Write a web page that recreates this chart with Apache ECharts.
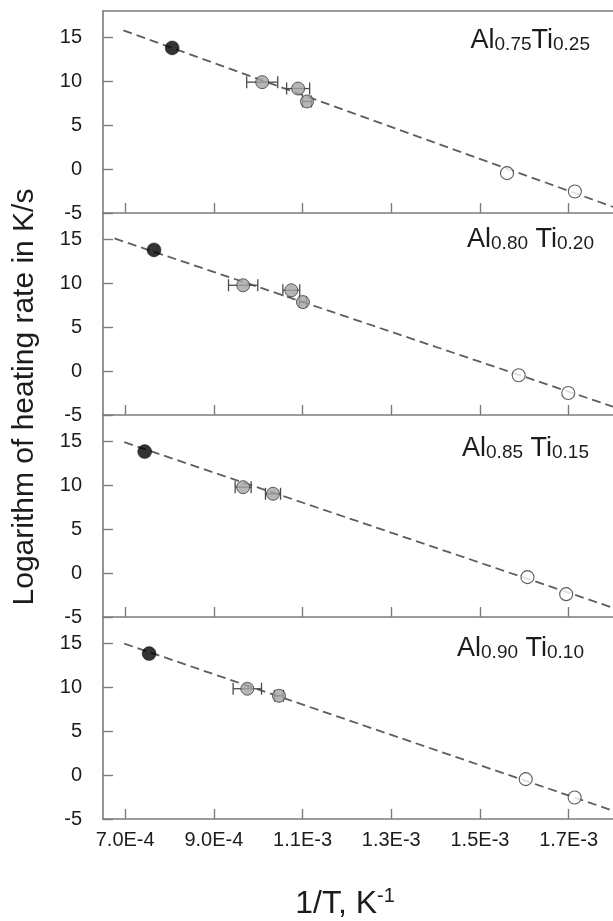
<!DOCTYPE html>
<html>
<head>
<meta charset="utf-8">
<script src="https://cdn.jsdelivr.net/npm/echarts@6/dist/echarts.min.js"></script>
<style>html,body{margin:0;padding:0;background:#fff}#c{width:613px;height:921px}</style>
</head>
<body>
<div id="c"></div>
<script>
// ---- data ----
const xTickValues = [7.0e-4, 9.0e-4, 1.1e-3, 1.3e-3, 1.5e-3, 1.7e-3];
const xTickLabels = ['7.0E-4', '9.0E-4', '1.1E-3', '1.3E-3', '1.5E-3', '1.7E-3'];
const yTickValues = [-5, 0, 5, 10, 15];
const alloyAl = ['0.75', '0.80', '0.85', '0.90'];
const alloyTi = ['0.25', '0.20', '0.15', '0.10'];
const alloyGap = ['', ' ', ' ', ' '];
const yTitle = 'Logarithm of heating rate in K/s';
const xTitle = '1/T, K';
const xTitleSup = '-1';

const solidPoints = [
  [[8.06e-4, 13.8]],
  [[7.65e-4, 13.8]],
  [[7.44e-4, 13.83]],
  [[7.54e-4, 13.83]]
];
const grayPoints = [
  [[1.009e-3, 9.9], [1.090e-3, 9.17], [1.110e-3, 7.7]],
  [[0.966e-3, 9.77], [1.0746e-3, 9.2], [1.1008e-3, 7.86]],
  [[0.966e-3, 9.78], [1.0333e-3, 9.03]],
  [[0.9754e-3, 9.83], [1.0468e-3, 9.03]]
];
const grayXErr = [
  [3.5e-5, 2.6e-5, 1.0e-5],
  [3.3e-5, 1.9e-5, 0.8e-5],
  [1.8e-5, 1.7e-5],
  [3.2e-5, 1.0e-5]
];
const openPoints = [
  [[1.561e-3, -0.46], [1.714e-3, -2.55]],
  [[1.5873e-3, -0.48], [1.6992e-3, -2.5]],
  [[1.6071e-3, -0.46], [1.6944e-3, -2.4]],
  [[1.6032e-3, -0.46], [1.7135e-3, -2.55]]
];
const fitLines = [
  [[6.96e-4, 15.8], [1.8e-3, -4.3]],
  [[6.76e-4, 15.1], [1.8e-3, -4.05]],
  [[6.98e-4, 14.9], [1.8e-3, -3.95]],
  [[6.98e-4, 14.97], [1.8e-3, -4.05]]
];

// ---- layout / style ----
const FONT = "'Liberation Sans', Arial, Helvetica, sans-serif";
const AX = '#7c7c7c';
const TXT = '#1c1c1c';
const GRID_LEFT = 103, GRID_TOP = 11, PANEL_H = 202;
const labelRight = [590, 594, 589, 584];
const labelTop = [24, 223, 432, 632];

const chart = echarts.init(document.getElementById('c'), null, {renderer: 'canvas'});

const grids = [], xAxes = [], yAxes = [], series = [], graphics = [];
for (let i = 0; i < 4; i++) {
  grids.push({left: GRID_LEFT, right: 0, top: GRID_TOP + PANEL_H * i, height: PANEL_H,
    containLabel: false, outerBoundsMode: 'none', show: false});
  xAxes.push({
    type: 'value', gridIndex: i, min: 6.5e-4, max: 1.8e-3,
    axisLine: {show: true, onZero: false, lineStyle: {color: AX, width: 1.6}},
    axisTick: {show: true, inside: true, length: 10, customValues: xTickValues, lineStyle: {color: AX, width: 1.4}},
    axisLabel: {show: i === 3, customValues: xTickValues, margin: 11, fontSize: 20, fontFamily: FONT, color: TXT,
      formatter: function (v) {
        let best = 0;
        for (let k = 1; k < xTickValues.length; k++) if (Math.abs(xTickValues[k] - v) < Math.abs(xTickValues[best] - v)) best = k;
        return xTickLabels[best];
      }},
    splitLine: {show: false}
  });
  yAxes.push({
    type: 'value', gridIndex: i, min: -5, max: 18,
    axisLine: {show: true, onZero: false, lineStyle: {color: AX, width: 1.6}},
    axisTick: {show: true, inside: true, length: 10, customValues: yTickValues, lineStyle: {color: AX, width: 1.4}},
    axisLabel: {show: true, customValues: yTickValues, margin: 21, fontSize: 20, fontFamily: FONT, color: TXT},
    splitLine: {show: false}
  });

  series.push({
    type: 'line', xAxisIndex: i, yAxisIndex: i, data: fitLines[i], showSymbol: false, symbol: 'none',
    lineStyle: {color: '#5e5e5e', width: 1.8, type: [9, 5]}, z: 1, silent: true
  });
  series.push({
    type: 'custom', xAxisIndex: i, yAxisIndex: i, z: 2, silent: true,
    data: grayPoints[i].map((p, k) => [p[0], p[1], grayXErr[i][k]]),
    renderItem: function (params, api) {
      const x = api.value(0), y = api.value(1), e = api.value(2);
      const lo = api.coord([x - e, y]), hi = api.coord([x + e, y]);
      const cap = 6;
      const st = {stroke: '#4a4a4a', lineWidth: 1.3};
      return {type: 'group', children: [
        {type: 'line', shape: {x1: lo[0], y1: lo[1], x2: hi[0], y2: hi[1]}, style: st},
        {type: 'line', shape: {x1: lo[0], y1: lo[1] - cap, x2: lo[0], y2: lo[1] + cap}, style: st},
        {type: 'line', shape: {x1: hi[0], y1: hi[1] - cap, x2: hi[0], y2: hi[1] + cap}, style: st}
      ]};
    }
  });
  series.push({
    type: 'scatter', xAxisIndex: i, yAxisIndex: i, data: grayPoints[i], symbol: 'circle', symbolSize: 13, z: 3,
    itemStyle: {color: '#a4a4a4', borderColor: '#3c3c3c', borderWidth: 1}, silent: true
  });
  series.push({
    type: 'scatter', xAxisIndex: i, yAxisIndex: i, data: openPoints[i], symbol: 'circle', symbolSize: 13, z: 3,
    itemStyle: {color: '#ffffff', borderColor: '#333333', borderWidth: 1.1}, silent: true
  });
  series.push({
    type: 'scatter', xAxisIndex: i, yAxisIndex: i, data: solidPoints[i], symbol: 'circle', symbolSize: 14, z: 3,
    itemStyle: {color: '#000000', borderColor: '#000000', borderWidth: 0.5}, silent: true
  });

  graphics.push({
    type: 'text', x: labelRight[i], y: labelTop[i], silent: true,
    style: {
      text: '{m|Al}{s|' + alloyAl[i] + '}{m|' + alloyGap[i] + 'Ti}{s|' + alloyTi[i] + '}',
      align: 'right', verticalAlign: 'top',
      rich: {
        m: {fontSize: 27, fontFamily: FONT, fill: TXT, color: TXT, lineHeight: 30, verticalAlign: 'bottom'},
        s: {fontSize: 19, fontFamily: FONT, fill: TXT, color: TXT, lineHeight: 18, verticalAlign: 'bottom'}
      }
    }
  });
}
// top border of the first panel
xAxes.push({
  type: 'value', gridIndex: 0, position: 'top', min: 6.5e-4, max: 1.8e-3,
  axisLine: {show: true, onZero: false, lineStyle: {color: AX, width: 1.6}},
  axisTick: {show: false}, axisLabel: {show: false}, splitLine: {show: false}
});

graphics.push({
  type: 'text', x: 24.5, y: 397, rotation: Math.PI / 2, silent: true,
  style: {text: yTitle, fontSize: 30, fontFamily: FONT, fill: TXT, align: 'center', verticalAlign: 'middle'}
});
graphics.push({
  type: 'text', x: 345, y: 886.5, silent: true,
  style: {
    text: '{m|' + xTitle + '}{s|' + xTitleSup + '}', align: 'center', verticalAlign: 'top',
    rich: {
      m: {fontSize: 32, fontFamily: FONT, fill: TXT, color: TXT, lineHeight: 34, verticalAlign: 'bottom'},
      s: {fontSize: 20, fontFamily: FONT, fill: TXT, color: TXT, lineHeight: 14, verticalAlign: 'top'}
    }
  }
});

chart.setOption({
  backgroundColor: '#ffffff',
  animation: false,
  grid: grids,
  xAxis: xAxes,
  yAxis: yAxes,
  series: series,
  graphic: graphics
});
</script>
</body>
</html>
